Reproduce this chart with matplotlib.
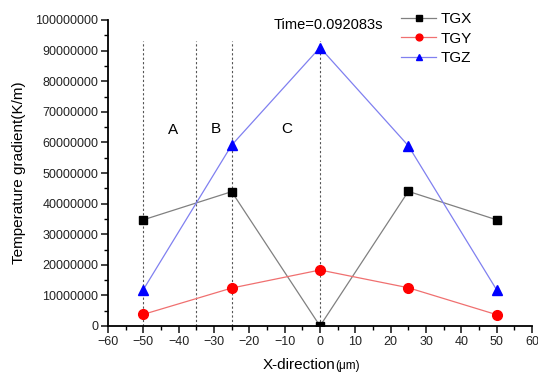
import matplotlib
matplotlib.use("Agg")
import matplotlib.pyplot as plt
from matplotlib.ticker import MultipleLocator

plt.rcParams['font.family'] = ['Liberation Sans', 'DejaVu Sans']

x = [-50, -25, 0, 25, 50]
tgx = [34700000, 43900000, 0, 44000000, 34700000]
tgy = [3800000, 12400000, 18300000, 12500000, 3700000]
tgz = [11900000, 59100000, 91000000, 58900000, 11800000]
vlines_x = [-50, -35, -25, 0]
vline_top = 93300000
region_labels = ['A', 'B', 'C']
region_x = [-41.5, -29.5, -9.5]
region_y = [64000000, 64500000, 64500000]
time_text = 'Time=0.092083s'

fig = plt.figure(figsize=(5.38, 3.77), dpi=100)
ax = fig.add_axes([108/538, 1-326/377, (532-108)/538, (326-20)/377])

for vx in vlines_x:
    ax.plot([vx, vx], [0, vline_top], color='#555555', lw=0.8, ls=(0, (2, 2)), zorder=1)

ax.plot(x, tgx, color='#808080', lw=0.9, marker='s', ms=6, mfc='black', mec='black', label='TGX', zorder=3)
ax.plot(x, tgy, color='#f07070', lw=0.9, marker='o', ms=7, mfc='red', mec='red', label='TGY', zorder=3)
ax.plot(x, tgz, color='#8080f0', lw=0.9, marker='^', ms=7, mfc='blue', mec='blue', label='TGZ', zorder=3)

for lab, lx, ly in zip(region_labels, region_x, region_y):
    ax.text(lx, ly, lab, fontsize=11, ha='center', va='center')
ax.text(2.5, 98300000, time_text, fontsize=10.5, ha='center', va='center')

ax.set_xlim(-60, 60)
ax.set_ylim(0, 100000000)
ax.xaxis.set_major_locator(MultipleLocator(10))
ax.xaxis.set_minor_locator(MultipleLocator(5))
ax.yaxis.set_major_locator(MultipleLocator(10000000))
ax.yaxis.set_minor_locator(MultipleLocator(5000000))
ax.ticklabel_format(style='plain', axis='y', useOffset=False)
ax.tick_params(which='major', direction='out', length=5, width=1.2, labelsize=9, pad=2, colors='#222222')
ax.tick_params(which='minor', direction='out', length=3, width=1.0)
for s in ['top', 'right']:
    ax.spines[s].set_visible(False)
for s in ['left', 'bottom']:
    ax.spines[s].set_linewidth(1.3)

leg = ax.legend(loc='upper left', bbox_to_anchor=(0.677, 1.045), frameon=False, fontsize=11,
                handlelength=2.3, handletextpad=0.3, labelspacing=0.35, borderaxespad=0,
                markerscale=0.7)

ax.set_ylabel('Temperature gradient(K/m)', fontsize=11, labelpad=7)
fig.text(335/538, 1-365/377, 'X-direction', fontsize=11, ha='right', va='center')
fig.text(335/538, 1-366/377, '(μm)', fontsize=8.5, ha='left', va='center')

fig.savefig('out.png', dpi=100)
